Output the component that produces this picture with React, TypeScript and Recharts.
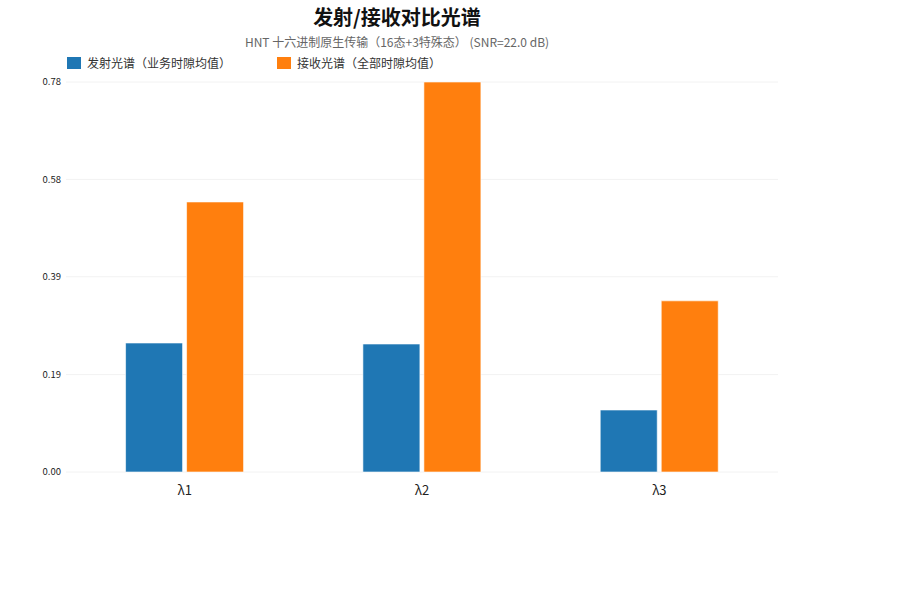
import React from "react";
import { BarChart, Bar, XAxis, YAxis, CartesianGrid } from "recharts";

const categories = ["λ1", "λ2", "λ3"];
const txValues = [0.257, 0.255, 0.1235];
const rxValues = [0.538, 0.777, 0.341];
const yTicks = [0, 0.194, 0.389, 0.583, 0.777];
const yTickLabels = ["0.00", "0.19", "0.39", "0.58", "0.78"];
const seriesNames = ["发射光谱（业务时隙均值）", "接收光谱（全部时隙均值）"];
const seriesColors = ["#1f77b4", "#ff7f0e"];

const data = categories.map((c, i) => ({ name: c, tx: txValues[i], rx: rxValues[i] }));

const FONT = '"Noto Sans CJK SC", "Noto Sans", sans-serif';

export default function App() {
  return (
    <div style={{ position: "absolute", left: 0, top: 0, width: 907, height: 603, background: "#fff", fontFamily: FONT }}>
      <div style={{ position: "absolute", left: 0, width: 794, top: 2, textAlign: "center", fontSize: 20, fontWeight: 700, color: "#111" }}>
        发射/接收对比光谱
      </div>
      <div style={{ position: "absolute", left: 0, width: 794, top: 33, textAlign: "center", fontSize: 12, color: "#666" }}>
        HNT 十六进制原生传输（16态+3特殊态） (SNR=22.0 dB)
      </div>
      <div style={{ position: "absolute", top: 54, left: 67, display: "flex", fontSize: 12, color: "#333" }}>
        {seriesNames.map((n, i) => (
          <div key={n} style={{ display: "flex", alignItems: "center", width: 210 }}>
            <div style={{ width: 14, height: 12, background: seriesColors[i], marginRight: 6 }} />
            <span>{n}</span>
          </div>
        ))}
      </div>
      <BarChart
        width={907}
        height={603}
        data={data}
        margin={{ top: 82, right: 129, bottom: 0, left: 0 }}
        barCategoryGap="25.1%"
        barGap={4}
      >
        <CartesianGrid vertical={false} stroke="#f2f2f2" />
        <XAxis
          dataKey="name"
          axisLine={false}
          tickLine={false}
          tickSize={0}
          tickMargin={14}
          height={131}
          tick={{ fontSize: 13, fill: "#222", fontFamily: FONT }}
        />
        <YAxis
          width={66}
          domain={[0, yTicks[yTicks.length - 1]]}
          ticks={yTicks}
          tickFormatter={(v: number) => yTickLabels[yTicks.indexOf(v)] ?? String(v)}
          axisLine={false}
          tickLine={false}
          tickSize={0}
          tickMargin={5}
          tick={{ fontSize: 9.5, fill: "#222", fontFamily: FONT }}
        />
        <Bar dataKey="tx" name={seriesNames[0]} fill={seriesColors[0]} stroke="#ffffff" strokeWidth={0.6} isAnimationActive={false} />
        <Bar dataKey="rx" name={seriesNames[1]} fill={seriesColors[1]} stroke="#ffffff" strokeWidth={0.6} isAnimationActive={false} />
      </BarChart>
    </div>
  );
}
